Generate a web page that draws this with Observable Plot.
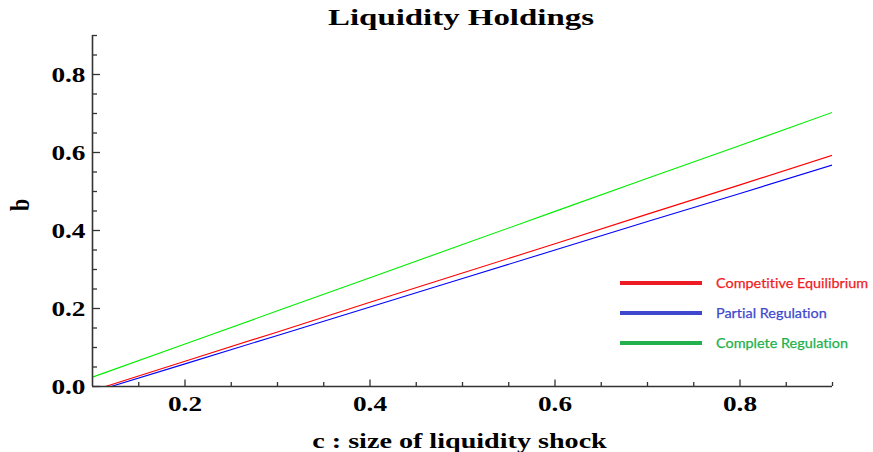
<!DOCTYPE html>
<html><head><meta charset="utf-8">
<script src="https://cdn.jsdelivr.net/npm/d3@7"></script>
<script src="https://cdn.jsdelivr.net/npm/@observablehq/plot@0.6"></script>
<style>
body{margin:0;background:#fff;}
#wrap{position:relative;width:873px;height:452px;overflow:hidden;background:#fff;}
#title{position:absolute;left:0;top:5px;width:922px;text-align:center;font:bold 24px/24px "Liberation Serif",serif;color:#000;transform:scaleX(1.37);transform-origin:461px 0;white-space:nowrap;}
#chart{position:absolute;left:0;top:32px;}
.lg-line{position:absolute;left:620px;width:82px;height:4px;}
.lg-text{position:absolute;left:716px;font:14px/16px Lato,"Open Sans",sans-serif;white-space:nowrap;font-variant-ligatures:none;-webkit-text-stroke:0.25px currentColor;transform:scaleX(1.03);transform-origin:0 0;}
</style></head>
<body><div id="wrap"><div id="title">Liquidity Holdings</div><div id="chart"></div><div id="legend"></div></div>
<script>
const seriesNames = ["Competitive Equilibrium", "Partial Regulation", "Complete Regulation"];
const lineColors = ["#ff0000", "#0000ff", "#00ee00"];
const legendLineColors = ["#ed1c24", "#3f48cc", "#22b14c"];
const legendTextColors = ["#f01c24", "#4048cc", "#22b14c"];

const competitiveC = [0.114, 0.2, 0.3, 0.4, 0.5, 0.6, 0.7, 0.8, 0.9];
const competitiveB = [0.0, 0.065, 0.140, 0.216, 0.291, 0.366, 0.442, 0.517, 0.593];
const partialC = [0.12, 0.2, 0.3, 0.4, 0.5, 0.6, 0.7, 0.8, 0.9];
const partialB = [0.0, 0.058, 0.131, 0.204, 0.277, 0.350, 0.423, 0.495, 0.568];
const completeC = [0.1, 0.2, 0.3, 0.4, 0.5, 0.6, 0.7, 0.8, 0.9];
const completeB = [0.024, 0.109, 0.194, 0.279, 0.364, 0.449, 0.534, 0.618, 0.703];

const xMajorTicks = [0.2, 0.4, 0.6, 0.8];
const xMinorTicks = [0.15, 0.25, 0.3, 0.35, 0.45, 0.5, 0.55, 0.65, 0.7, 0.75, 0.85, 0.9];
const yMajorTicks = [0.0, 0.2, 0.4, 0.6, 0.8];
const yMinorTicks = [0.05, 0.1, 0.15, 0.25, 0.3, 0.35, 0.45, 0.5, 0.55, 0.65, 0.7, 0.75, 0.85, 0.9];
const xLabel = "c : size of liquidity shock";
const yLabel = "b";

const rows = [];
[[competitiveC, competitiveB], [partialC, partialB], [completeC, completeB]].forEach(([cs, bs], k) => {
  cs.forEach((c, i) => rows.push({series: seriesNames[k], c, b: bs[i]}));
});

const axisColor = "#333";
const chart = Plot.plot({
  width: 873, height: 420,
  marginLeft: 92, marginRight: 41, marginTop: 3, marginBottom: 66,
  x: {domain: [0.1, 0.9], label: null},
  y: {domain: [0, 0.9], label: null},
  color: {domain: seriesNames, range: lineColors},
  style: {fontFamily: '"Liberation Serif", serif', fontWeight: "bold", fontSize: "22px", color: "#000", background: "#fff", overflow: "visible"},
  marks: [
    Plot.line(rows, {x: "c", y: "b", z: "series", stroke: "series", strokeWidth: 1.1, clip: true}),
    Plot.axisX(xMinorTicks, {tickSize: -4, tickFormat: () => "", label: null, stroke: axisColor, strokeWidth: 1.3}),
    Plot.axisX(xMajorTicks, {tickSize: -6.5, tickFormat: () => "", label: null, stroke: axisColor, strokeWidth: 1.3}),
    Plot.axisX(xMajorTicks, {tickSize: 0, tickPadding: 9, tickFormat: ".1f", label: null}),
    Plot.axisY(yMinorTicks, {tickSize: -5, tickFormat: () => "", label: null, stroke: axisColor, strokeWidth: 1.3}),
    Plot.axisY(yMajorTicks, {tickSize: -8, tickFormat: () => "", label: null, stroke: axisColor, strokeWidth: 1.3}),
    Plot.axisY(yMajorTicks, {tickSize: 0, tickPadding: 7, tickFormat: ".1f", label: null}),
    Plot.ruleY([0], {stroke: axisColor, strokeWidth: 1.6}),
    Plot.ruleX([0.1], {stroke: axisColor, strokeWidth: 1.6}),
    Plot.text([xLabel], {frameAnchor: "bottom", dx: -3, dy: 61, lineAnchor: "bottom", fontSize: 21, fill: "#000"}),
    Plot.text([yLabel], {frameAnchor: "left", dx: -72, rotate: -90, lineAnchor: "middle", fontSize: 22, fill: "#000"})
  ]
});
document.getElementById("chart").appendChild(chart);

function stretch(t, sx, sy) {
  let tr = t.getAttribute("transform") || "";
  const x = +t.getAttribute("x") || 0, y = +t.getAttribute("y") || 0;
  if (x || y) { t.removeAttribute("x"); t.removeAttribute("y"); tr += ` translate(${x},${y})`; }
  t.setAttribute("transform", tr + ` scale(${sx},${sy})`);
}
chart.querySelectorAll("text").forEach(t => {
  const s = t.textContent;
  if (s === "") return;
  if (s === yLabel) stretch(t, 1, 1.24);
  else if (s === xLabel) stretch(t, 1.34, 1);
  else stretch(t, 1.24, 1);
});

const legend = document.getElementById("legend");
const legendY = [283, 313, 343];
seriesNames.forEach((name, i) => {
  const l = document.createElement("div");
  l.className = "lg-line";
  l.style.top = (legendY[i] - 2) + "px";
  l.style.background = legendLineColors[i];
  legend.appendChild(l);
  const t = document.createElement("div");
  t.className = "lg-text";
  t.style.top = (legendY[i] - 8) + "px";
  t.style.color = legendTextColors[i];
  t.textContent = name;
  legend.appendChild(t);
});
</script>
</body></html>
